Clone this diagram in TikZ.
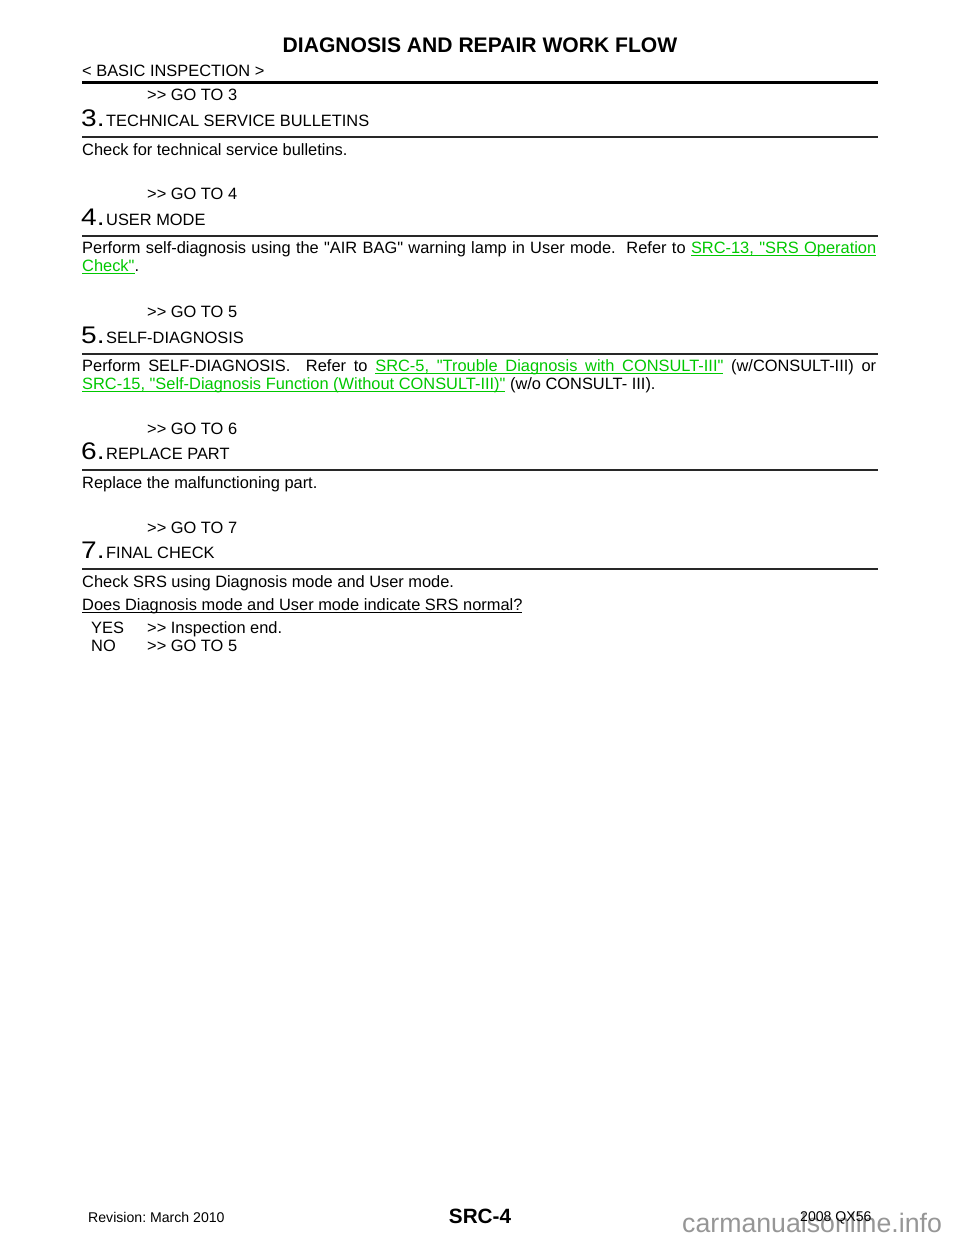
\documentclass[tikz,border=0pt]{standalone}
\usepackage{graphicx}
\usepackage{fontspec}
\setmainfont{Liberation Sans}[Ligatures=TeXOff]
\definecolor{linkgreen}{RGB}{0,200,0}
\definecolor{rulegray}{RGB}{40,40,40}
\definecolor{wmgray}{RGB}{150,150,150}
\makeatletter
\newcommand{\myulbox}[1]{\setbox0\hbox{#1}\rlap{\vrule height -2.4pt depth 3.4pt width \wd0}\box0}
\newcommand{\myulspace}{\leaders\hrule height -2.4pt depth 3.4pt\hskip\fontdimen2\font plus\fontdimen3\font minus\fontdimen4\font}
\def\myulA#1 #2\relax{\myulbox{#1}\ifx\relax#2\relax\else\myulspace\myulA#2\relax\fi}
\newcommand{\myul}[1]{\myulA#1 \relax}
\makeatother
\newcommand{\lnk}[1]{{\color{linkgreen}\myul{#1}}}
\newcommand{\stepnum}[1]{\scalebox{1.17}[1]{#1}}
\tikzset{
  txt/.style={anchor=base west, inner sep=0pt, font=\fontsize{16.4}{18}\selectfont},
  bignum/.style={anchor=base west, inner sep=0pt, font=\fontsize{24}{24}\selectfont},
  secrule/.style={line width=1.3pt, draw=rulegray},
  foottxt/.style={anchor=base west, inner sep=0pt, font=\fontsize{14.1}{16}\selectfont},
}
\begin{document}
\frenchspacing
\begin{tikzpicture}[x=1pt,y=-1pt]
\path[use as bounding box, fill=white] (0,0) rectangle (960,1242);
% header
\node[anchor=base, inner sep=0pt, font=\fontsize{21.1}{24}\selectfont\bfseries] (title) at (480,52) {DIAGNOSIS AND REPAIR WORK FLOW};
\node[txt] (basic) at (82,76) {< BASIC INSPECTION >};
\draw[line width=3pt] (82,82) -- (878,82);
% section 3
\node[txt] (go3) at (147,100) {>> GO TO 3};
\node[bignum] (n3) at (81,126) {\stepnum{3.}};
\node[txt] (h3) at (106,126) {TECHNICAL SERVICE BULLETINS};
\draw[secrule] (82,137) -- (878,137);
\node[txt] (b3) at (82,155) {Check for technical service bulletins.};
% section 4
\node[txt] (go4) at (147,199) {>> GO TO 4};
\node[bignum] (n4) at (81,225) {\stepnum{4.}};
\node[txt] (h4) at (106,225) {USER MODE};
\draw[secrule] (82,236) -- (878,236);
\node[txt] (b4a) at (82,253) {\makebox[794pt][s]{Perform self-diagnosis using the "AIR BAG" warning lamp in User mode.\ \ Refer to \lnk{SRC-13, "SRS Operation}}};
\node[txt] (b4b) at (82,271) {\lnk{Check"}.};
% section 5
\node[txt] (go5) at (147,317) {>> GO TO 5};
\node[bignum] (n5) at (81,343) {\stepnum{5.}};
\node[txt] (h5) at (106,343) {SELF-DIAGNOSIS};
\draw[secrule] (82,354) -- (878,354);
\node[txt] (b5a) at (82,371) {\makebox[794pt][s]{Perform SELF-DIAGNOSIS.\ \ Refer to \lnk{SRC-5, "Trouble Diagnosis with CONSULT-III"} (w/CONSULT-III) or}};
\node[txt] (b5b) at (82,389) {\lnk{SRC-15, "Self-Diagnosis Function (Without CONSULT-III)"} (w/o CONSULT- III).};
% section 6
\node[txt] (go6) at (147,434) {>> GO TO 6};
\node[bignum] (n6) at (81,459) {\stepnum{6.}};
\node[txt] (h6) at (106,459) {REPLACE PART};
\draw[secrule] (82,470) -- (878,470);
\node[txt] (b6) at (82,488) {Replace the malfunctioning part.};
% section 7
\node[txt] (go7) at (147,533) {>> GO TO 7};
\node[bignum] (n7) at (81,558) {\stepnum{7.}};
\node[txt] (h7) at (106,558) {FINAL CHECK};
\draw[secrule] (82,569) -- (878,569);
\node[txt] (b7a) at (82,587) {Check SRS using Diagnosis mode and User mode.};
\node[txt] (b7b) at (82,610) {\myul{Does Diagnosis mode and User mode indicate SRS normal?}};
\node[txt] (yes) at (91,633) {YES};
\node[txt] (yesgo) at (147,633) {>> Inspection end.};
\node[txt] (no) at (91,651) {NO};
\node[txt] (nogo) at (147,651) {>> GO TO 5};
% footer
\node[anchor=base west, inner sep=0pt, font=\fontsize{26.7}{28}\selectfont, text=wmgray] (wm) at (682,1232) {carmanualsonline.info};
\node[foottxt] (rev) at (88,1222) {Revision: March 2010};
\node[anchor=base, inner sep=0pt, font=\fontsize{20.7}{22}\selectfont\bfseries] (page) at (480,1223) {SRC-4};
\node[foottxt] (model) at (800,1221) {2008 QX56};
\end{tikzpicture}
\end{document}
